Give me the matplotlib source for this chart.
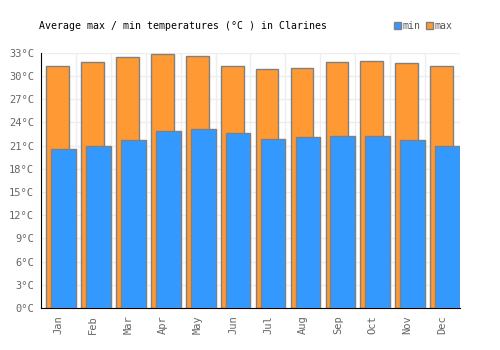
import matplotlib.pyplot as plt
from matplotlib.patches import Patch

months = ['Jan', 'Feb', 'Mar', 'Apr', 'May', 'Jun', 'Jul', 'Aug', 'Sep', 'Oct', 'Nov', 'Dec']
temp_max = [31.3, 31.8, 32.5, 32.8, 32.6, 31.3, 30.9, 31.1, 31.8, 32.0, 31.7, 31.3]
temp_min = [20.6, 21.0, 21.7, 22.9, 23.2, 22.6, 21.9, 22.1, 22.2, 22.2, 21.7, 21.0]
y_ticks = [0, 3, 6, 9, 12, 15, 18, 21, 24, 27, 30, 33]

blue = '#3399ff'
orange = '#ff9933'
edge = '#808080'
font = 'DejaVu Sans Mono'

fig = plt.figure(figsize=(5, 3.5), dpi=100)
ax = fig.add_axes([0.082, 0.12, 0.838, 0.729])

idx = range(len(months))
ax.bar([i + 0.15 for i in idx], temp_max, width=0.65, align='edge',
       color=orange, edgecolor=edge, linewidth=1, zorder=2)
ax.bar([i + 0.29 for i in idx], temp_min, width=0.71, align='edge',
       color=blue, edgecolor=edge, linewidth=1, zorder=3)

ax.set_xlim(0, 12)
ax.set_ylim(0, 33)
ax.set_yticks(y_ticks)
ax.set_yticklabels([f'{t}°C' for t in y_ticks], family=font, fontsize=7.5, color='#666666')
ax.set_xticks([i + 0.5 for i in idx])
ax.set_xticklabels(months, rotation=90, family=font, fontsize=7.5, color='#666666')
ax.set_xticks(range(1, 13), minor=True)
ax.tick_params(which='both', length=0, pad=5)
ax.grid(True, which='minor', axis='x', color='#eeeeee', linewidth=1, zorder=0)
ax.grid(True, which='major', axis='y', color='#eeeeee', linewidth=1, zorder=0)
ax.set_axisbelow(True)

for s in ['top', 'right']:
    ax.spines[s].set_visible(False)
ax.spines['left'].set_color('black')
ax.spines['bottom'].set_color('black')

fig.text(0.078, 0.925, 'Average max / min temperatures (°C ) in Clarines',
         family=font, fontsize=7.1, color='black', va='center')

handles = [Patch(facecolor=blue, edgecolor=edge), Patch(facecolor=orange, edgecolor=edge)]
fig.legend(handles, ['min', 'max'], loc='center right', bbox_to_anchor=(0.905, 0.925),
           ncol=2, frameon=False, handlelength=0.7, handleheight=0.7,
           handletextpad=0.2, columnspacing=0.5, prop={'family': font, 'size': 7.1},
           labelcolor='#555555', borderpad=0, borderaxespad=0)

fig.savefig('out.png', dpi=100)
